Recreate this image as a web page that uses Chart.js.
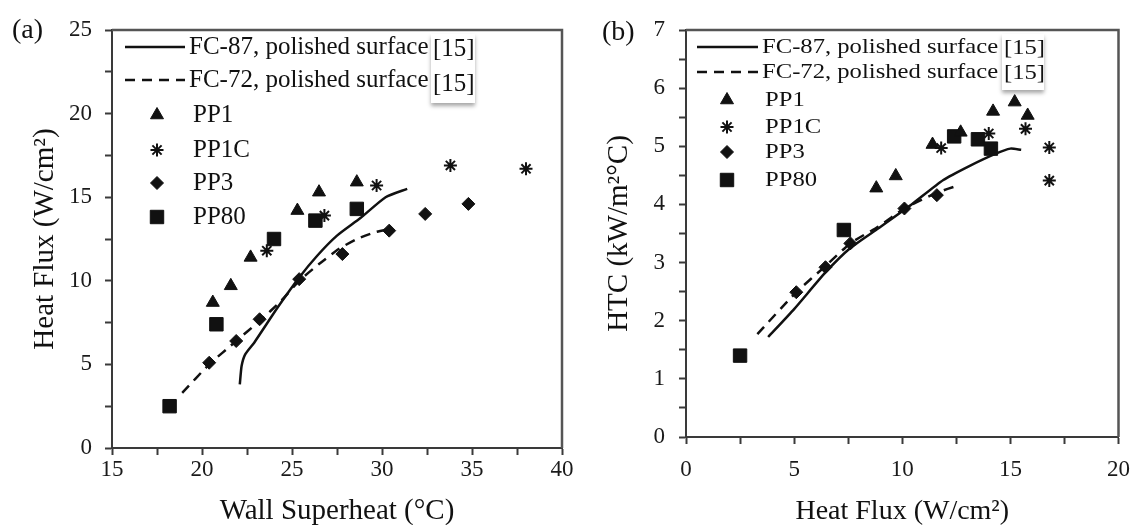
<!DOCTYPE html>
<html>
<head>
<meta charset="utf-8">
<script src="https://cdn.jsdelivr.net/npm/chart.js@4.4.0/dist/chart.umd.min.js"></script>
<style>
  body { margin: 0; background: #fff; }
  #wrap { position: relative; width: 1142px; height: 525px; }
  canvas { position: absolute; top: 0; }
</style>
</head>
<body>
<div id="wrap">
  <canvas id="chartA" width="580" height="525" style="left:0"></canvas>
  <canvas id="chartB" width="562" height="525" style="left:580px"></canvas>
</div>
<script>
// ---- (a) heat flux vs wall superheat ----
const fc87Superheat = [22.1, 22.2, 22.4, 22.9, 24.2, 25.4, 26.4, 27.5, 28.8, 30.2, 31.4];
const fc87Flux      = [3.8, 4.9, 5.6, 6.3, 8.4, 10.2, 11.5, 12.7, 13.75, 15.0, 15.5];
const fc72Superheat = [18.9, 20.4, 21.9, 23.2, 24.4, 25.4, 26.5, 27.6, 28.6, 29.6, 30.4];
const fc72Flux      = [3.3, 5.0, 6.4, 7.6, 8.8, 10.0, 11.0, 11.9, 12.5, 12.9, 13.1];
const pp1Superheat  = [20.6, 21.6, 22.7, 25.3, 26.5, 28.6];
const pp1Flux       = [8.7, 9.7, 11.4, 14.2, 15.3, 15.9];
const pp1cSuperheat = [23.6, 26.8, 29.7, 33.8, 38.0];
const pp1cFlux      = [11.8, 13.9, 15.7, 16.9, 16.7];
const pp3Superheat  = [20.4, 21.9, 23.2, 25.4, 27.8, 30.4, 32.4, 34.8];
const pp3Flux       = [5.1, 6.4, 7.7, 10.1, 11.6, 13.0, 14.0, 14.6];
const pp80Superheat = [18.2, 20.8, 24.0, 26.3, 28.6];
const pp80Flux      = [2.5, 7.4, 12.5, 13.6, 14.3];

// ---- (b) HTC vs heat flux ----
const fc87HtcFlux = [3.8, 5.0, 6.45, 7.6, 8.9, 10.4, 11.9, 13.1, 14.3, 15.0, 15.5];
const fc87Htc     = [1.72, 2.2, 2.83, 3.25, 3.59, 3.99, 4.42, 4.66, 4.87, 4.96, 4.94];
const fc72HtcFlux = [3.3, 5.1, 6.45, 7.6, 8.9, 10.1, 11.6, 12.6];
const fc72Htc     = [1.77, 2.49, 2.94, 3.33, 3.62, 3.93, 4.2, 4.33];
const pp1HtcFlux  = [8.8, 9.7, 11.4, 12.7, 14.2, 15.2, 15.8];
const pp1Htc      = [4.28, 4.49, 5.03, 5.24, 5.6, 5.76, 5.53];
const pp1cHtcFlux = [11.8, 14.0, 15.7, 16.8, 16.8];
const pp1cHtc     = [4.97, 5.22, 5.3, 4.98, 4.41];
const pp3HtcFlux  = [5.1, 6.45, 7.6, 10.1, 11.6];
const pp3Htc      = [2.49, 2.92, 3.33, 3.93, 4.16];
const pp80HtcFlux = [2.5, 7.3, 12.4, 13.5, 14.1];
const pp80Htc     = [1.4, 3.56, 5.17, 5.12, 4.96];

const serif = '"Liberation Serif", "Times New Roman", serif';
const ink = '#111';

const zip = (xs, ys) => xs.map((x, i) => ({ x: x, y: ys[i] }));

function lineSet(label, xs, ys, dash) {
  return {
    label: label, data: zip(xs, ys), showLine: true, borderColor: ink,
    borderWidth: 2.5, borderDash: dash, pointRadius: 0, pointHoverRadius: 0, tension: 0.2
  };
}
function markSet(label, xs, ys, style, r, bw) {
  return {
    label: label, data: zip(xs, ys), showLine: false, pointStyle: style,
    pointRadius: r, pointHoverRadius: r, pointBackgroundColor: ink,
    pointBorderColor: ink, pointBorderWidth: bw
  };
}

function makeScale(o) {
  return {
    type: 'linear', min: o.min, max: o.max,
    border: { color: '#3a3a3a', width: 2 },
    grid: { drawOnChartArea: false, tickLength: 7, tickColor: '#3a3a3a', tickWidth: 2 },
    ticks: {
      stepSize: o.step, autoSkip: false, maxTicksLimit: 100, padding: o.pad, color: '#1a1a1a',
      font: { family: serif, size: 23 },
      callback: v => (Math.abs(v / o.major - Math.round(v / o.major)) < 1e-6 ? v : '')
    },
    title: { display: true, text: o.title, color: ink, font: { family: serif, size: o.titleSize }, padding: o.titlePad },
    afterFit: s => { if (s.isHorizontal()) s.height = o.size; else s.width = o.size; }
  };
}

// frame (top and right edges of the plot box)
const frame = {
  id: 'frame',
  beforeDatasetsDraw(chart) {
    const a = chart.chartArea, ctx = chart.ctx;
    ctx.save();
    ctx.strokeStyle = '#555';
    ctx.lineWidth = 2.5;
    ctx.beginPath();
    ctx.moveTo(a.left, a.top);
    ctx.lineTo(a.right, a.top);
    ctx.lineTo(a.right, a.bottom);
    ctx.stroke();
    ctx.restore();
  }
};

// legend, panel letter and the "[15]" note
const overlay = {
  id: 'overlay',
  afterDraw(chart, args, L) {
    const ctx = chart.ctx;
    ctx.save();
    ctx.fillStyle = ink;
    ctx.strokeStyle = ink;
    ctx.textBaseline = 'middle';
    ctx.textAlign = 'left';
    ctx.font = '28px ' + serif;
    ctx.fillText(L.panel, L.panelX, L.panelY);

    const txt = (s, x, y) => {
      ctx.save();
      ctx.translate(x, y);
      ctx.scale(L.sx, 1);
      ctx.fillText(s, 0, 0);
      ctx.restore();
    };

    ctx.font = L.font + 'px ' + serif;
    let li = 0, mi = 0;
    chart.data.datasets.forEach(ds => {
      if (ds.showLine) {
        const y = L.lineY[li++];
        ctx.save();
        ctx.lineWidth = 2.5;
        ctx.setLineDash(ds.borderDash || []);
        ctx.beginPath();
        ctx.moveTo(L.lineX0, y);
        ctx.lineTo(L.lineX1, y);
        ctx.stroke();
        ctx.restore();
        txt(ds.label, L.lineText, y);
      } else {
        const y = L.markY[mi++];
        ctx.save();
        ctx.fillStyle = ink;
        ctx.strokeStyle = ink;
        ctx.lineWidth = ds.pointBorderWidth;
        Chart.helpers.drawPoint(ctx, { pointStyle: ds.pointStyle, radius: ds.pointRadius, rotation: 0, borderWidth: ds.pointBorderWidth }, L.markX, y);
        ctx.restore();
        txt(ds.label, L.markText, y);
      }
    });

    // reference note box
    const b = L.box;
    ctx.save();
    ctx.shadowColor = 'rgba(0,0,0,0.35)';
    ctx.shadowBlur = 4;
    ctx.shadowOffsetY = 3;
    ctx.fillStyle = '#fff';
    ctx.fillRect(b.x, b.y, b.w, b.h);
    ctx.restore();
    b.rows.forEach(y => txt('[15]', b.x + 2, y));
    ctx.restore();
  }
};

function datasets(d) {
  return [
    lineSet('FC-87, polished surface', d[0], d[1], []),
    lineSet('FC-72, polished surface', d[2], d[3], [10, 7]),
    markSet('PP1', d[4], d[5], 'triangle', 7.5, 1),
    markSet('PP1C', d[6], d[7], 'star', 6.5, 2),
    markSet('PP3', d[8], d[9], 'rectRot', 6.5, 1),
    markSet('PP80', d[10], d[11], 'rect', 9.5, 1)
  ];
}

new Chart(document.getElementById('chartA'), {
  type: 'scatter',
  data: {
    datasets: datasets([fc87Superheat, fc87Flux, fc72Superheat, fc72Flux, pp1Superheat, pp1Flux,
      pp1cSuperheat, pp1cFlux, pp3Superheat, pp3Flux, pp80Superheat, pp80Flux])
  },
  options: {
    responsive: false, animation: false, devicePixelRatio: 1,
    layout: { padding: { top: 30, right: 18, bottom: 0, left: 0 } },
    plugins: {
      legend: { display: false }, tooltip: { enabled: false },
      overlay: {
        panel: '(a)', panelX: 12, panelY: 31, font: 25, sx: 1,
        lineX0: 125, lineX1: 185, lineText: 189, lineY: [47, 80],
        markX: 157, markText: 193, markY: [115, 150, 183, 217],
        box: { x: 431, y: 34, w: 44, h: 69, rows: [49, 84] }
      }
    },
    scales: {
      x: makeScale({ min: 15, max: 40, step: 2.5, major: 5, pad: 1, title: 'Wall Superheat (°C)', titleSize: 29, titlePad: { top: 0, bottom: -4 }, size: 77 }),
      y: makeScale({ min: 0, max: 25, step: 2.5, major: 5, pad: 13, title: 'Heat Flux (W/cm²)', titleSize: 29, titlePad: { top: 28, bottom: 0 }, size: 112 })
    }
  },
  plugins: [frame, overlay]
});

new Chart(document.getElementById('chartB'), {
  type: 'scatter',
  data: {
    datasets: datasets([fc87HtcFlux, fc87Htc, fc72HtcFlux, fc72Htc, pp1HtcFlux, pp1Htc,
      pp1cHtcFlux, pp1cHtc, pp3HtcFlux, pp3Htc, pp80HtcFlux, pp80Htc])
  },
  options: {
    responsive: false, animation: false, devicePixelRatio: 1,
    layout: { padding: { top: 30, right: 19, bottom: 0, left: 0 } },
    plugins: {
      legend: { display: false }, tooltip: { enabled: false },
      overlay: {
        panel: '(b)', panelX: 22, panelY: 33, font: 22, sx: 1.12,
        lineX0: 117, lineX1: 178, lineText: 182, lineY: [47, 72],
        markX: 147, markText: 185, markY: [100, 127, 152, 180],
        box: { x: 422, y: 34, w: 42, h: 56, rows: [48, 73] }
      }
    },
    scales: {
      x: makeScale({ min: 0, max: 20, step: 2.5, major: 5, pad: 12, title: 'Heat Flux (W/cm²)', titleSize: 28, titlePad: { top: 0, bottom: -3 }, size: 88 }),
      y: makeScale({ min: 0, max: 7, step: 0.5, major: 1, pad: 14, title: 'HTC (kW/m²°C)', titleSize: 29, titlePad: { top: 22, bottom: 0 }, size: 106 })
    }
  },
  plugins: [frame, overlay]
});
</script>
</body>
</html>
